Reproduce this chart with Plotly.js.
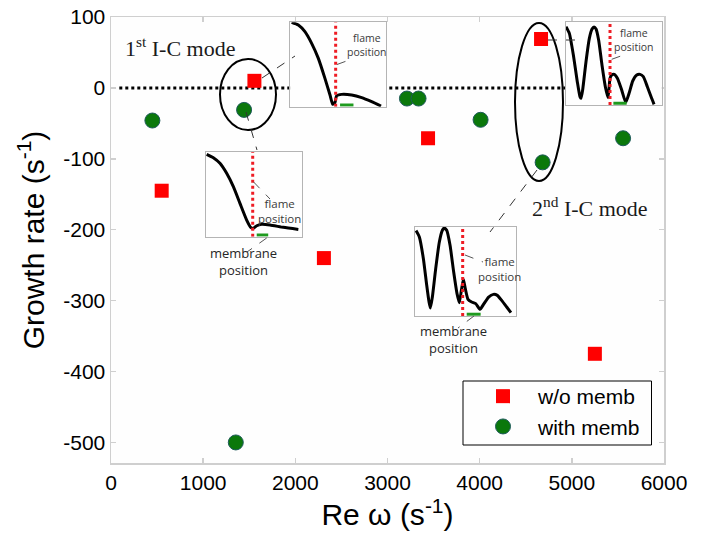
<!DOCTYPE html>
<html>
<head>
<meta charset="utf-8">
<script src="https://cdn.plot.ly/plotly-3.0.1.min.js"></script>
<style>
  html, body { margin: 0; padding: 0; background: #ffffff; }
  #chart { width: 706px; height: 540px; }
</style>
</head>
<body>
<div id="chart"></div>
<script>
// ---- Eigenvalues: growth rate vs. Re(omega) ----
const woMembX = [1556, 550, 2310, 3440, 4666, 5250];
const woMembY = [10, -145, -240, -71, 69, -375];
const withMembX = [449, 1444, 1354, 3211, 3337, 4010, 4683, 5556];
const withMembY = [-46, -31, -500, -15, -15, -45, -105, -71];

const xTickVals = [0, 1000, 2000, 3000, 4000, 5000, 6000];
const xTickText = ['0', '1000', '2000', '3000', '4000', '5000', '6000'];
const yTickVals = [-500, -400, -300, -200, -100, 0, 100];
const yTickText = ['-500', '-400', '-300', '-200', '-100', '0', '100'];

// neutral-stability reference line (growth rate = 0)
const neutralX = [90, 5400];
const neutralY = [0, 0];

// ---- Mode shapes (normalised amplitude along the burner axis) ----
// 1st I-C mode, without membrane
const modeA_x = [0.014, 0.084, 0.153, 0.223, 0.293, 0.362, 0.415, 0.443, 0.467, 0.484, 0.537, 0.641, 0.746, 0.850, 0.948];
const modeA_y = [1.0, 0.968, 0.889, 0.751, 0.573, 0.336, 0.138, 0.028, 0.051, 0.130, 0.146, 0.138, 0.107, 0.059, 0.008];
// 1st I-C mode, with membrane
const modeB_x = [0.007, 0.077, 0.146, 0.216, 0.286, 0.355, 0.425, 0.470, 0.495, 0.530, 0.582, 0.669, 0.808, 0.965];
const modeB_y = [0.969, 0.929, 0.863, 0.745, 0.588, 0.392, 0.196, 0.106, 0.098, 0.129, 0.145, 0.137, 0.110, 0.086];
// 2nd I-C mode, without membrane
const modeC_x = [0.0, 0.035, 0.077, 0.118, 0.146, 0.157, 0.174, 0.209, 0.244, 0.272, 0.293, 0.314, 0.341, 0.376, 0.411, 0.439, 0.460, 0.477, 0.505, 0.537, 0.582, 0.624, 0.659, 0.697, 0.739, 0.774, 0.808, 0.850, 0.895, 0.920];
const modeC_y = [0.94, 0.86, 0.60, 0.28, 0.10, 0.08, 0.18, 0.52, 0.80, 0.912, 0.936, 0.912, 0.78, 0.48, 0.22, 0.088, 0.32, 0.36, 0.368, 0.32, 0.18, 0.032, 0.14, 0.288, 0.36, 0.368, 0.34, 0.22, 0.08, 0.008];
// 2nd I-C mode, with membrane
const modeD_x = [0.01, 0.043, 0.083, 0.116, 0.139, 0.152, 0.172, 0.205, 0.241, 0.271, 0.290, 0.314, 0.347, 0.383, 0.416, 0.439, 0.459, 0.479, 0.498, 0.525, 0.561, 0.601, 0.644, 0.683, 0.729, 0.776, 0.815, 0.858, 0.908, 0.950];
const modeD_y = [0.96, 0.888, 0.644, 0.345, 0.157, 0.09, 0.213, 0.532, 0.831, 0.963, 0.989, 0.963, 0.794, 0.494, 0.251, 0.150, 0.288, 0.412, 0.307, 0.187, 0.157, 0.139, 0.075, 0.139, 0.213, 0.243, 0.232, 0.176, 0.101, 0.037];

// flame and membrane locations in each mode-shape panel
const flamePos = [0.474, 0.488, 0.460, 0.472];
const membStart = [0.52, 0.53, 0.495, 0.512];
const membEnd = [0.66, 0.65, 0.634, 0.65];

// ---- page geometry ----
const W = 706, H = 540;
const M = { l: 111, r: 42, t: 17, b: 77 };
const PW = W - M.l - M.r, PH = H - M.t - M.b;
const xRange = [0, 6000], yRange = [-529, 100];

const px = (x) => (x - M.l) / PW;             // pixel -> paper x
const py = (y) => (H - M.b - y) / PH;         // pixel -> paper y
const dx = (x) => xRange[0] + px(x) * (xRange[1] - xRange[0]);  // pixel -> data x
const dy = (y) => yRange[0] + py(y) * (yRange[1] - yRange[0]);  // pixel -> data y

// inset boxes in pixels: [left, right, top, bottom]
const boxes = [
  [290.3, 386.0, 22.3, 106.7],
  [206.0, 301.7, 151.7, 236.7],
  [566.0, 661.7, 21.7, 105.0],
  [415.0, 516.0, 227.0, 316.0]
];
const modes = [[modeA_x, modeA_y], [modeB_x, modeB_y], [modeC_x, modeC_y], [modeD_x, modeD_y]];

const FONT = 'Liberation Sans, Arial, sans-serif';
const SERIF = 'Liberation Serif, Times New Roman, serif';
const SMALL = 'Open Sans, Liberation Sans, sans-serif';

const traces = [
  {
    x: neutralX, y: neutralY, mode: 'lines', type: 'scatter',
    line: { color: '#000000', width: 3, dash: 'dot' },
    showlegend: false, hoverinfo: 'skip'
  },
  {
    x: woMembX, y: woMembY, mode: 'markers', type: 'scatter', name: 'w/o memb',
    marker: { symbol: 'square', size: 14, color: '#ff0000', line: { width: 0 } }
  },
  {
    x: withMembX, y: withMembY, mode: 'markers', type: 'scatter', name: 'with memb',
    marker: { symbol: 'circle', size: 15, color: '#0b780b', line: { color: '#1d5a5a', width: 1 } }
  }
];

const layout = {
  width: W, height: H,
  margin: M,
  paper_bgcolor: '#ffffff',
  plot_bgcolor: '#fefefe',
  font: { family: FONT, color: '#000000' },
  showlegend: true,
  legend: {
    x: px(464), y: py(376), xanchor: 'left', yanchor: 'top',
    bgcolor: 'rgba(0,0,0,0)', borderwidth: 0,
    font: { family: FONT, size: 21, color: '#000000' },
    itemwidth: 60, indentation: 4
  },
  xaxis: {
    range: xRange, tickvals: xTickVals, ticktext: xTickText,
    showgrid: false, zeroline: false,
    showline: true, mirror: 'ticks', linecolor: '#cfcfcf', linewidth: 1.5,
    ticks: 'inside', ticklen: 5, tickcolor: '#cfcfcf', tickwidth: 1.5,
    tickfont: { family: FONT, size: 21, color: '#000000' },
    title: { text: 'Re ω (s<sup>-1</sup>)', font: { family: FONT, size: 30, color: '#000000' }, standoff: 8 }
  },
  yaxis: {
    range: yRange, tickvals: yTickVals, ticktext: yTickText,
    showgrid: false, zeroline: false,
    showline: true, mirror: 'ticks', linecolor: '#cfcfcf', linewidth: 1.5,
    ticks: 'inside', ticklen: 5, tickcolor: '#cfcfcf', tickwidth: 1.5,
    tickfont: { family: FONT, size: 21, color: '#000000' },
    title: { text: 'Growth rate (s<sup>-1</sup>)', font: { family: FONT, size: 30, color: '#000000' }, standoff: 10 }
  },
  shapes: [],
  annotations: []
};

// legend frame
layout.shapes.push({ type: 'rect', xref: 'paper', yref: 'paper',
  x0: px(463), x1: px(651.5), y0: py(445), y1: py(381),
  line: { color: '#000000', width: 1 }, fillcolor: 'rgba(0,0,0,0)', layer: 'above' });

// mode-shape panels as small subplots
modes.forEach((m, i) => {
  const n = i + 2;
  const b = boxes[i];
  const ax = {
    domain: [px(b[0]), px(b[1])], range: [0, 1], anchor: 'y' + n,
    showgrid: false, zeroline: false, showticklabels: false, ticks: '',
    showline: true, mirror: true, linecolor: '#b4b4b4', linewidth: 1, fixedrange: true
  };
  const ay = {
    domain: [py(b[3]), py(b[2])], range: [0, 1], anchor: 'x' + n,
    showgrid: false, zeroline: false, showticklabels: false, ticks: '',
    showline: true, mirror: true, linecolor: '#b4b4b4', linewidth: 1, fixedrange: true
  };
  layout['xaxis' + n] = ax;
  layout['yaxis' + n] = ay;

  traces.push({
    x: m[0], y: m[1], xaxis: 'x' + n, yaxis: 'y' + n, type: 'scatter', mode: 'lines',
    line: { color: '#000000', width: 3, shape: 'spline', smoothing: 0.5 },
    showlegend: false, hoverinfo: 'skip'
  });
  traces.push({
    x: [flamePos[i], flamePos[i]], y: [0, 1], xaxis: 'x' + n, yaxis: 'y' + n,
    type: 'scatter', mode: 'lines',
    line: { color: '#ee1c24', width: 3, dash: 'dot' },
    showlegend: false, hoverinfo: 'skip'
  });
  traces.push({
    x: [membStart[i], membEnd[i]], y: [0.02, 0.02], xaxis: 'x' + n, yaxis: 'y' + n,
    type: 'scatter', mode: 'lines',
    line: { color: '#1e9a1e', width: 3 },
    showlegend: false, hoverinfo: 'skip'
  });
});

// mode grouping ellipses
layout.shapes.push(
  { type: 'circle', xref: 'x', yref: 'y', x0: dx(220), x1: dx(276), y0: dy(130), y1: dy(59),
    line: { color: '#000000', width: 2 }, layer: 'above' },
  { type: 'circle', xref: 'x', yref: 'y', x0: dx(515), x1: dx(563), y0: dy(181), y1: dy(23),
    line: { color: '#000000', width: 2 }, layer: 'above' }
);

// dashed leaders from eigenvalues to their mode shapes
const dashLine = { color: '#333333', width: 1, dash: 'dash' };
const leaders = [
  [woMembX[0], woMembY[0], 262, 78, 295, 56],
  [withMembX[1], withMembY[1], 246, 112, 257, 150],
  [woMembX[4], woMembY[4], 548, 40, 579, 40],
  [withMembX[6], withMembY[6], 537, 170, 490, 232]
];
leaders.forEach(l => {
  layout.shapes.push({ type: 'line', xref: 'x', yref: 'y',
    x0: dx(l[2]), y0: dy(l[3]), x1: dx(l[4]), y1: dy(l[5]), line: dashLine, layer: 'above' });
});

// pointers for "flame position" / "membrane position" labels
const pointers = [
  [337, 64.5, 352, 59],
  [253.3, 181.7, 270, 199],
  [611.7, 59.3, 628.3, 53.3],
  [465, 255, 483, 262],
  [266.7, 238, 247, 252],
  [474, 316, 458, 328]
];
pointers.forEach(p => {
  layout.shapes.push({ type: 'line', xref: 'paper', yref: 'paper',
    x0: px(p[0]), y0: py(p[1]), x1: px(p[2]), y1: py(p[3]),
    line: { color: '#555555', width: 1, dash: 'dash' }, layer: 'above' });
});

// text labels
function label(text, x, y, size, color, family) {
  layout.annotations.push({
    text: text, xref: 'paper', yref: 'paper', x: px(x), y: py(y),
    xanchor: 'center', yanchor: 'middle', showarrow: false,
    font: { family: family || FONT, size: size, color: color }
  });
}
label('1<sup>st</sup> I-C mode', 180, 47, 22, '#1a1a1a', SERIF);
label('2<sup>nd</sup> I-C mode', 590, 207, 22, '#1a1a1a', SERIF);

label('flame<br>position', 366.7, 44.5, 10.5, '#3a3a3a', SMALL);
label('flame<br>position', 279, 210.5, 11.5, '#3a3a3a', SMALL);
label('flame<br>position', 634, 40, 10.5, '#3a3a3a', SMALL);
label('flame<br>position', 499.3, 269, 11.5, '#3a3a3a', SMALL);

label('membrane<br>position', 243.3, 261.5, 13, '#262626', SMALL);
label('membrane<br>position', 453.3, 339.5, 13, '#262626', SMALL);

Plotly.newPlot('chart', traces, layout, { staticPlot: true, displayModeBar: false });
</script>
</body>
</html>
